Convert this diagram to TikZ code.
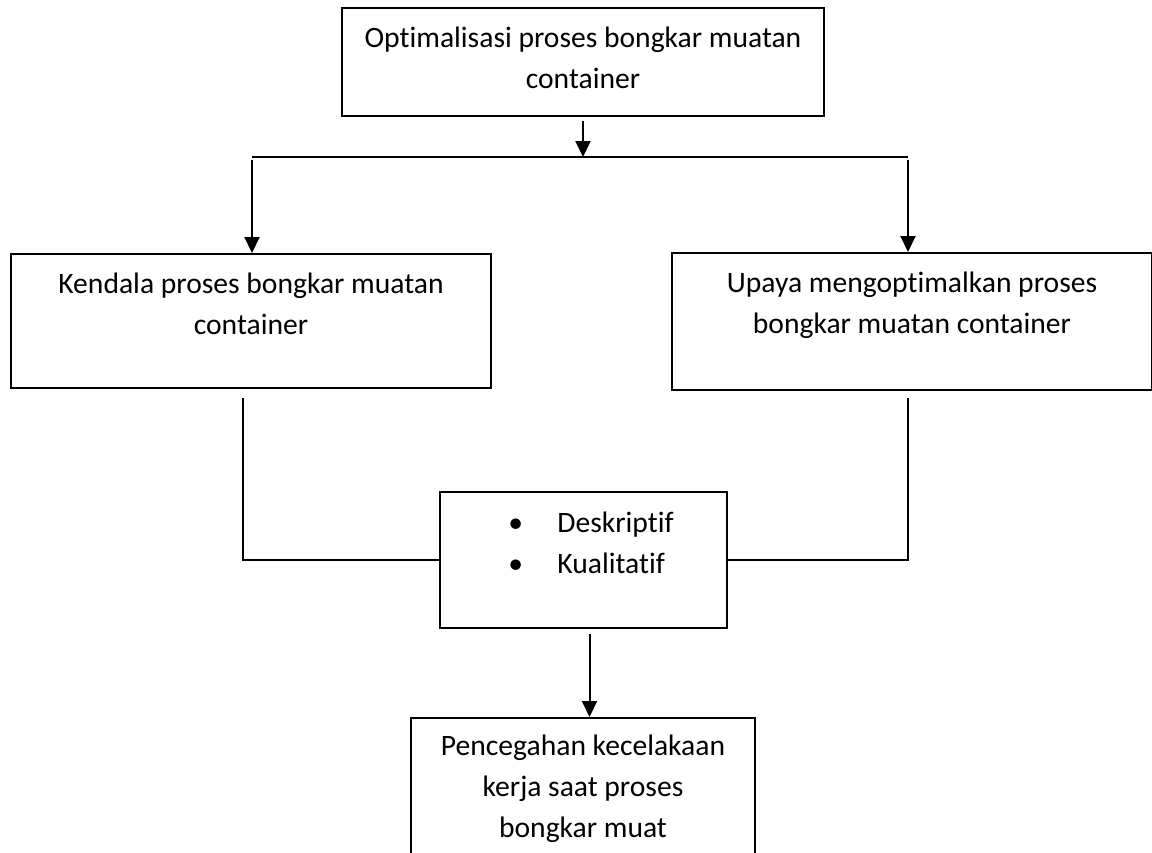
\documentclass[tikz,border=0pt]{standalone}
\usepackage{fontspec}
\setmainfont{Carlito}[Ligatures=NoCommon]
\usetikzlibrary{positioning, arrows.meta}
\tikzset {
    x=0.5pt, y=-0.5pt,
    kotak/.style={draw, line width=1pt, inner sep=0pt},
    teks/.style={align=center, inner sep=0pt, font=\fontsize{14.8}{20.5}\selectfont},
    garis/.style={line width=1pt},
    panah/.style={line width=1pt, -{Triangle[width=7.5pt, length=8pt]}}
}

\begin{document}
\begin{tikzpicture}
    \useasboundingbox (0,0) rectangle (1152,852);
    \clip (0,0) rectangle (1152,852);

    \node[kotak, anchor=north west, minimum width=241pt, minimum height=54pt] (optimal) at (341,7) {};
    \node[kotak, anchor=north west, minimum width=240pt, minimum height=67pt] (kendala) at (10,253) {};
    \node[kotak, anchor=north west, minimum width=240pt, minimum height=68.5pt] (upaya) at (671,252) {};
    \node[kotak, anchor=north west, minimum width=143.5pt, minimum height=68pt] (metode) at (439,491) {};
    \node[kotak, anchor=north west, minimum width=172pt, minimum height=80pt] (cegah) at (410,717) {};

    \node[teks, anchor=base] (optimalT) at ([yshift=-40.5pt]optimal.north) {Optimalisasi proses bongkar muatan\\container};
    \node[teks, anchor=base] (kendalaT) at ([yshift=-40.5pt]kendala.north) {Kendala proses bongkar muatan\\container};
    \node[teks, anchor=base] (upayaT) at ([yshift=-40.5pt]upaya.north) {Upaya mengoptimalkan proses\\bongkar muatan container};
    \node[teks, align=left, anchor=base west] (metodeT) at (508,573) {\makebox[24.5pt][l]{\textbullet}Deskriptif\\\makebox[24.5pt][l]{\textbullet}Kualitatif};
    \node[teks, anchor=base] (cegahT) at ([yshift=-60pt]cegah.north) {Pencegahan kecelakaan\\kerja saat proses\\bongkar muat};

    \coordinate (cabangL) at (252,157);
    \coordinate (cabangR) at (908,157);
    \coordinate (turunL) at (243,398);
    \coordinate (turunR) at (908,398);

    \draw[garis] (cabangL) -- (cabangR);
    \draw[panah] ([yshift=-2pt]optimal.south) -- (optimal.south |- cabangL);
    \draw[panah] ([yshift=-1.5pt]cabangL) -- (cabangL |- kendala.north);
    \draw[panah] ([yshift=-1.5pt]cabangR) -- (cabangR |- upaya.north);
    \draw[garis] (turunL) |- (metode.west);
    \draw[garis] (turunR) |- (metode.east);
    \draw[panah] ([xshift=3pt, yshift=-2.5pt]metode.south) -- ([xshift=3pt]metode.south |- cegah.north);
\end{tikzpicture}
\end{document}
